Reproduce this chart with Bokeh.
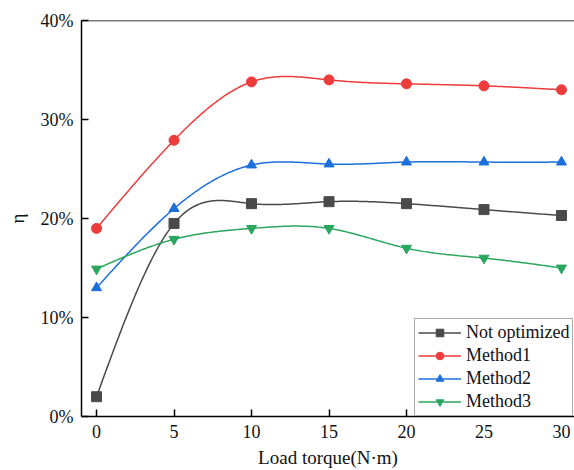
import numpy as np
from bokeh.plotting import figure
from bokeh.models import Range1d, Legend, LegendItem, Span, NumeralTickFormatter, FixedTicker
from bokeh.embed import file_html
from bokeh.resources import INLINE

torque = [0, 5, 10, 15, 20, 25, 30]
not_optimized = [0.020, 0.195, 0.215, 0.217, 0.215, 0.209, 0.203]
method1 = [0.190, 0.279, 0.338, 0.340, 0.336, 0.334, 0.330]
method2 = [0.130, 0.210, 0.254, 0.255, 0.257, 0.257, 0.257]
method3 = [0.149, 0.179, 0.190, 0.190, 0.170, 0.160, 0.150]
series_names = ["Not optimized", "Method1", "Method2", "Method3"]
x_ticks = [0, 5, 10, 15, 20, 25, 30]
y_ticks = [0.0, 0.1, 0.2, 0.3, 0.4]

colors = ["#4a4a4a", "#ee3b3b", "#1c6fdc", "#2aa65e"]
markers = ["square", "circle", "triangle", "inverted_triangle"]
FONT = "Liberation Serif"


def natural_spline(x, y, n=300):
    x = np.asarray(x, float)
    y = np.asarray(y, float)
    k = len(x)
    h = np.diff(x)
    A = np.zeros((k, k))
    b = np.zeros(k)
    A[0, 0] = 1
    A[-1, -1] = 1
    for i in range(1, k - 1):
        A[i, i - 1] = h[i - 1]
        A[i, i] = 2 * (h[i - 1] + h[i])
        A[i, i + 1] = h[i]
        b[i] = 6 * ((y[i + 1] - y[i]) / h[i] - (y[i] - y[i - 1]) / h[i - 1])
    M = np.linalg.solve(A, b)
    xs = np.linspace(x[0], x[-1], n)
    idx = np.clip(np.searchsorted(x, xs) - 1, 0, k - 2)
    x0, x1 = x[idx], x[idx + 1]
    hh = x1 - x0
    t0 = x1 - xs
    t1 = xs - x0
    ys = (M[idx] * t0 ** 3 / (6 * hh) + M[idx + 1] * t1 ** 3 / (6 * hh)
          + (y[idx] / hh - M[idx] * hh / 6) * t0
          + (y[idx + 1] / hh - M[idx + 1] * hh / 6) * t1)
    return xs, ys


p = figure(width=574, height=470, output_backend="svg", toolbar_location=None,
           x_range=Range1d(-0.97, 30.84), y_range=Range1d(0, 0.40),
           min_border_left=81, min_border_right=0, min_border_top=20, min_border_bottom=52)
p.outline_line_color = None
p.xgrid.visible = False
p.ygrid.visible = False

items = []
for name, vals, c, m in zip(series_names, [not_optimized, method1, method2, method3], colors, markers):
    xs, ys = natural_spline(torque, vals)
    ln = p.line(xs, ys, line_color=c, line_width=1.5)
    sc = p.scatter(torque, vals, marker=m, size=10, fill_color=c, line_color=c)
    items.append(LegendItem(label=name, renderers=[ln, sc]))

p.add_layout(Span(location=0.40, dimension="width", line_color="black", line_width=1.5))

p.xaxis.ticker = FixedTicker(ticks=x_ticks)
p.yaxis.ticker = FixedTicker(ticks=y_ticks)
p.yaxis.formatter = NumeralTickFormatter(format="0%")
p.xaxis.axis_label = "Load torque(N·m)"
p.yaxis.axis_label = "η"
p.axis.axis_line_color = "black"
p.axis.axis_line_width = 1.5
p.axis.major_tick_in = 7
p.axis.major_tick_out = 0
p.axis.major_tick_line_color = "black"
p.axis.major_tick_line_width = 1.5
p.axis.minor_tick_line_color = None
p.axis.major_label_text_font = FONT
p.axis.major_label_text_font_size = "18px"
p.axis.major_label_text_color = "#111111"
p.axis.axis_label_text_font = FONT
p.axis.axis_label_text_font_size = "19px"
p.axis.axis_label_text_font_style = "normal"
p.axis.axis_label_text_color = "#111111"
p.axis.major_label_standoff = 8
p.xaxis.axis_label_standoff = 6
p.yaxis.axis_label_standoff = 10

legend = Legend(items=items, location=(333, 0))
legend.label_text_font = FONT
legend.label_text_font_size = "18px"
legend.label_text_color = "#111111"
legend.glyph_width = 43
legend.glyph_height = 19
legend.label_height = 19
legend.label_standoff = 5
legend.spacing = 2
legend.padding = 3
legend.margin = 0
legend.border_line_color = "#555555"
legend.border_line_width = 1
legend.background_fill_alpha = 1
p.add_layout(legend)

open("out.html", "w").write(file_html(p, INLINE))
